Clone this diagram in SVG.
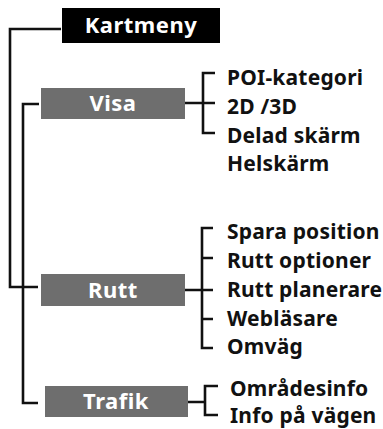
<svg xmlns="http://www.w3.org/2000/svg" width="383" height="429" viewBox="0 0 383 429">
<style>
.ln{fill:none;stroke:#111;stroke-width:2.6;stroke-linecap:butt;stroke-linejoin:miter}
.box{fill:#6e6e6e}
.top{fill:#000}
.lbl{font-family:"Noto Sans","Liberation Sans",sans-serif;font-weight:700;font-size:22px;letter-spacing:0.5px;fill:#fff;text-anchor:middle}
.it{font-family:"Noto Sans","Liberation Sans",sans-serif;font-weight:700;font-size:21px;letter-spacing:0.2px;fill:#111}
</style>
<rect width="383" height="429" fill="#fff"/>
<g id="connectors">
<path class="ln" d="M61,29 H10 V287 H38"/>
<path class="ln" d="M39,104 H23 V403 H38"/>
<path class="ln" d="M185,103 H215 M215,73 H203 V133 H215"/>
<path class="ln" d="M185,290 H213 M213,228 H202 V348 H213 M202,258 H213 M202,319 H213"/>
<path class="ln" d="M188,402 H205 M218,386 H205 V415 H218"/>
</g>
<g id="kartmeny">
<rect class="top" x="62" y="8" width="158" height="35"/>
<text class="lbl" x="141" y="33">Kartmeny</text>
</g>
<g id="visa">
<rect class="box" x="41" y="88" width="144" height="31"/>
<text class="lbl" x="113" y="111">Visa</text>
</g>
<g id="visa-items">
<text class="it" x="227" y="85">POI-kategori</text>
<text class="it" x="227" y="114">2D /3D</text>
<text class="it" x="227" y="143">Delad skärm</text>
<text class="it" x="227" y="171">Helskärm</text>
</g>
<g id="rutt">
<rect class="box" x="41" y="274" width="144" height="32"/>
<text class="lbl" x="113" y="298">Rutt</text>
</g>
<g id="rutt-items">
<text class="it" x="227" y="239">Spara position</text>
<text class="it" x="227" y="268">Rutt optioner</text>
<text class="it" x="227" y="297">Rutt planerare</text>
<text class="it" x="227" y="326">Webläsare</text>
<text class="it" x="227" y="354">Omväg</text>
</g>
<g id="trafik">
<rect class="box" x="45" y="386" width="143" height="31"/>
<text class="lbl" x="116" y="409">Trafik</text>
</g>
<g id="trafik-items">
<text class="it" x="230" y="396">Områdesinfo</text>
<text class="it" x="230" y="423">Info på vägen</text>
</g>
</svg>
